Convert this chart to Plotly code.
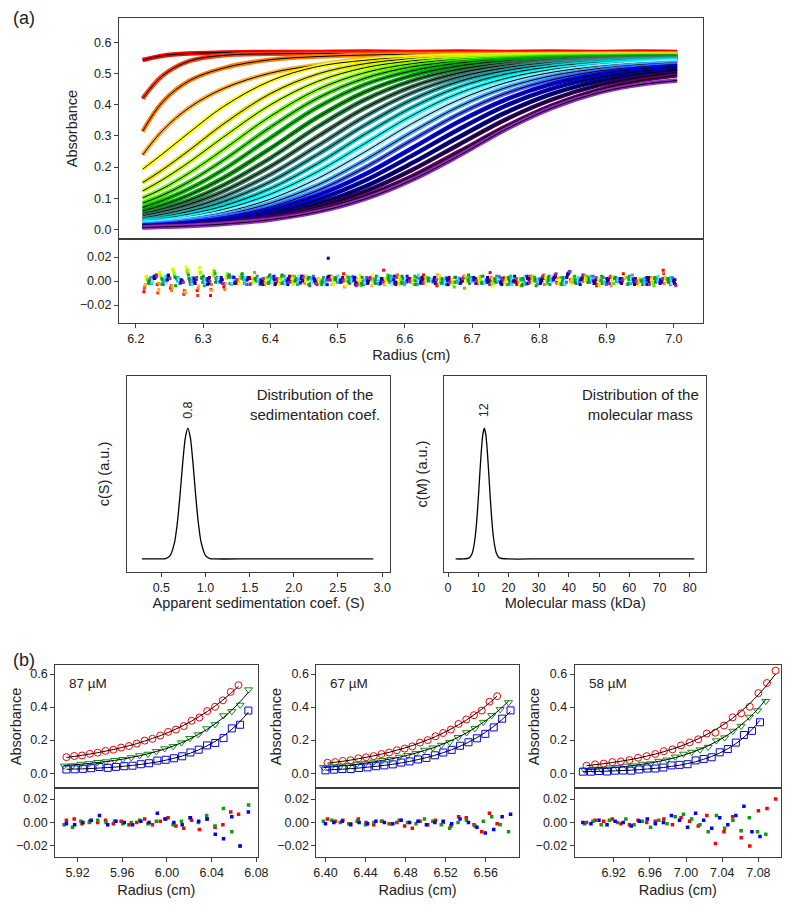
import numpy as np
import plotly.graph_objects as go

# ---------------- (a) sedimentation velocity scans ----------------
RADIUS = [6.21, 6.24, 6.28, 6.33, 6.40, 6.47, 6.54, 6.61, 6.68, 6.75, 6.82, 6.89, 6.95, 7.005]
SCAN_01 = [0.544, 0.558, 0.565, 0.568, 0.570, 0.570, 0.571, 0.570, 0.571, 0.570, 0.571, 0.570, 0.571, 0.570]
SCAN_02 = [0.420, 0.494, 0.541, 0.559, 0.564, 0.565, 0.565, 0.565, 0.565, 0.565, 0.565, 0.566, 0.566, 0.566]
SCAN_03 = [0.315, 0.410, 0.478, 0.518, 0.545, 0.555, 0.560, 0.562, 0.563, 0.563, 0.564, 0.564, 0.564, 0.564]
SCAN_04 = [0.239, 0.318, 0.392, 0.452, 0.502, 0.528, 0.547, 0.555, 0.559, 0.561, 0.562, 0.563, 0.563, 0.563]
SCAN_05 = [0.193, 0.243, 0.312, 0.394, 0.477, 0.523, 0.543, 0.553, 0.558, 0.560, 0.561, 0.561, 0.561, 0.561]
SCAN_06 = [0.150, 0.192, 0.255, 0.338, 0.436, 0.499, 0.532, 0.548, 0.555, 0.558, 0.559, 0.560, 0.560, 0.560]
SCAN_07 = [0.123, 0.160, 0.217, 0.296, 0.400, 0.475, 0.519, 0.541, 0.551, 0.556, 0.558, 0.559, 0.559, 0.559]
SCAN_08 = [0.101, 0.131, 0.182, 0.256, 0.363, 0.449, 0.503, 0.532, 0.546, 0.553, 0.556, 0.558, 0.558, 0.558]
SCAN_09 = [0.084, 0.110, 0.154, 0.222, 0.328, 0.421, 0.485, 0.522, 0.540, 0.550, 0.554, 0.556, 0.557, 0.557]
SCAN_10 = [0.070, 0.093, 0.131, 0.192, 0.294, 0.392, 0.465, 0.509, 0.534, 0.546, 0.552, 0.554, 0.556, 0.556]
SCAN_11 = [0.059, 0.078, 0.111, 0.165, 0.260, 0.360, 0.441, 0.494, 0.525, 0.541, 0.548, 0.552, 0.554, 0.555]
SCAN_12 = [0.050, 0.066, 0.094, 0.142, 0.229, 0.329, 0.416, 0.477, 0.514, 0.534, 0.545, 0.550, 0.552, 0.553]
SCAN_13 = [0.043, 0.057, 0.081, 0.122, 0.202, 0.298, 0.389, 0.458, 0.502, 0.527, 0.540, 0.547, 0.550, 0.552]
SCAN_14 = [0.036, 0.048, 0.068, 0.104, 0.176, 0.268, 0.362, 0.438, 0.489, 0.519, 0.536, 0.544, 0.548, 0.550]
SCAN_15 = [0.030, 0.040, 0.058, 0.089, 0.153, 0.240, 0.334, 0.416, 0.475, 0.510, 0.530, 0.541, 0.546, 0.548]
SCAN_16 = [0.026, 0.034, 0.049, 0.075, 0.131, 0.211, 0.305, 0.391, 0.457, 0.499, 0.523, 0.536, 0.542, 0.545]
SCAN_17 = [0.022, 0.028, 0.041, 0.064, 0.113, 0.185, 0.275, 0.365, 0.437, 0.485, 0.514, 0.530, 0.538, 0.542]
SCAN_18 = [0.018, 0.024, 0.035, 0.054, 0.097, 0.163, 0.248, 0.339, 0.416, 0.471, 0.505, 0.524, 0.534, 0.539]
SCAN_19 = [0.016, 0.021, 0.030, 0.046, 0.084, 0.142, 0.222, 0.312, 0.394, 0.455, 0.494, 0.517, 0.529, 0.535]
SCAN_20 = [0.014, 0.018, 0.026, 0.040, 0.072, 0.124, 0.198, 0.286, 0.370, 0.437, 0.481, 0.509, 0.522, 0.530]
SCAN_21 = [0.012, 0.015, 0.022, 0.034, 0.063, 0.109, 0.176, 0.260, 0.346, 0.417, 0.468, 0.499, 0.515, 0.524]
SCAN_22 = [0.010, 0.013, 0.019, 0.030, 0.054, 0.095, 0.156, 0.236, 0.321, 0.397, 0.453, 0.489, 0.507, 0.517]
SCAN_23 = [0.009, 0.012, 0.017, 0.026, 0.047, 0.082, 0.137, 0.212, 0.296, 0.375, 0.436, 0.477, 0.499, 0.511]
SCAN_24 = [0.008, 0.010, 0.014, 0.022, 0.041, 0.072, 0.121, 0.190, 0.272, 0.353, 0.418, 0.464, 0.489, 0.503]
SCAN_25 = [0.007, 0.009, 0.013, 0.019, 0.035, 0.063, 0.107, 0.170, 0.249, 0.330, 0.399, 0.449, 0.478, 0.495]
SCAN_26 = [0.006, 0.008, 0.011, 0.017, 0.031, 0.056, 0.097, 0.158, 0.236, 0.321, 0.391, 0.440, 0.465, 0.478]
SCANS = [SCAN_01, SCAN_02, SCAN_03, SCAN_04, SCAN_05, SCAN_06, SCAN_07, SCAN_08, SCAN_09,
         SCAN_10, SCAN_11, SCAN_12, SCAN_13, SCAN_14, SCAN_15, SCAN_16, SCAN_17, SCAN_18,
         SCAN_19, SCAN_20, SCAN_21, SCAN_22, SCAN_23, SCAN_24, SCAN_25, SCAN_26]
SCAN_COLORS = ["#ff0000", "#f04010", "#ff8000", "#ffb030", "#ffff00", "#e8e800", "#c8ff00",
               "#80ff00", "#40e000", "#00c000", "#00a000", "#208040", "#3a7050", "#408080",
               "#20a0a0", "#00d0d0", "#00ffff", "#90e8ff", "#40a8ff", "#4060ff", "#0000ff",
               "#0000c0", "#000090", "#300060", "#600060", "#9030c0"]

# residuals of the fit (units of 0.001 absorbance), one row per scan (same order as SCANS)
RES_START, RES_STEP, RES_SHIFT = 6.212, 0.0198, 0.00076
RES_A = [
    [-9, -3, -6, -11, -8, -12, -5, -2, 3, -1, 2, 0, 4, -3, 1, 6, -2, 3, 9, -1, 2, 5, -4, 0, 3, -2, 7, 1, -3, 4, 2, -1, 8, 0, -4, 3, 6, -2, 1, 9],
    [-6, -10, -4, -8, -12, -7, -3, 1, -2, 2, -1, 3, 0, -2, 4, 1, -3, 2, 0, 5, -1, 2, -3, 1, 4, -2, 0, 3, -1, 2, 5, -2, 1, 0, -3, 4, 2, -1, 3, 6],
    [-4, -2, -8, -10, -6, -3, -7, -1, 2, -3, 1, 4, -2, 0, 3, -5, 2, 1, -3, 4, 0, -2, 5, 1, -6, 2, 3, -1, 0, 4, -3, 2, -1, 5, 1, -4, 2, 0, 3, -2],
    [-3, -7, -5, -9, -4, -8, -2, 0, 3, -2, 1, -1, 4, 2, -3, 0, 2, -4, 1, 3, -1, 0, 2, -2, 4, 1, -3, 0, 2, -1, 3, -2, 0, 4, 1, -3, 2, -1, 0, 3],
    [3, 6, 9, 12, 8, 5, 3, -2, 4, 1, -3, 2, 0, -1, 3, -4, 2, 5, -2, 0, 1, -3, 4, 2, -1, 3, -5, 0, 2, -2, 4, 1, -3, 0, 2, -1, 3, -4, 1, 2],
    [4, 7, 10, 8, 11, 6, 2, 4, -1, 2, 0, -3, 3, 1, -2, 4, 0, -1, 2, -3, 1, 3, -2, 0, 4, -1, 2, -3, 1, 0, 3, -2, 1, 2, -4, 0, 3, 1, -2, 2],
    [2, 5, 8, 10, 6, 9, 4, 2, -1, 3, 0, -2, 4, 1, -3, 2, 5, -1, 0, 3, -2, 1, 4, -3, 2, 0, -1, 3, -4, 2, 1, -2, 3, 0, -1, 4, -3, 2, 1, 0],
    [1, 4, 6, 9, 7, 4, 6, 3, 1, -2, 2, 0, 3, -1, 1, 4, -2, 0, 3, 1, -3, 2, 0, -1, 3, 2, -2, 1, 0, 4, -1, -3, 2, 1, 0, -2, 3, 1, -1, 2],
    [1, -3, 4, 6, 3, 8, 5, 2, 7, 3, -2, 4, 1, -1, 3, 0, -4, 2, 5, -2, 1, 3, -1, -5, 2, 4, 0, -3, 2, 1, -2, 3, -1, 4, 0, -2, 3, 1, -4, 2],
    [-1, 2, 3, 5, 2, 6, 3, 5, 2, -1, 4, 0, 2, -3, 1, 3, -2, 0, 2, -1, 4, 1, -2, 3, 0, -1, 2, -3, 1, 3, 0, -2, 4, -1, 1, 2, -3, 0, 2, 1],
    [-2, 1, -4, 2, 3, -1, 4, 6, 2, -2, 5, 1, -3, 0, 2, -1, 3, -2, 1, 4, -3, 0, 2, -1, 5, -2, 1, 3, -4, 0, 2, -3, 1, -1, 4, 2, -2, 0, 3, -1],
    [0, -2, 3, 1, -1, 2, 5, 3, 1, 4, -2, 0, 3, -1, 2, 0, -3, 1, 4, -2, 0, 2, -1, 3, 1, -2, 0, 2, -3, 1, 4, 0, -1, 2, -2, 3, 1, 0, -1, 2],
    [0, -3, 2, -1, 4, 1, -2, 3, 0, 5, -1, 2, -4, 1, 3, -2, 0, 4, -1, 2, -3, 1, 0, 3, -2, 4, -1, 0, 2, -4, 1, 3, -2, 0, -1, 2, 4, -3, 1, 0],
    [2, -1, 1, -3, 0, 3, -2, 1, 4, 0, -1, 2, -2, 3, 0, 1, -3, 2, 0, -1, 3, 1, -2, 0, 2, -1, 4, -2, 1, 0, -3, 2, 1, -1, 3, 0, -2, 1, 2, -1],
    [3, -1, 0, 2, -4, 1, 3, -2, 1, 0, 4, -3, 2, 1, -1, 3, 0, -2, 4, 1, -3, 2, 0, -1, 3, -2, 1, 4, 0, -3, 2, -1, 1, 3, -2, 0, 4, -1, 2, -3],
    [-2, 1, 3, 0, -1, 2, -3, 1, 0, 3, -2, 1, 2, -1, 4, 0, -2, 1, 3, -3, 0, 2, 1, -1, 2, -2, 0, 3, -1, 1, 2, -3, 0, 4, -1, 1, -2, 2, 0, 3],
    [-1, 4, 2, -3, 1, 0, -2, 3, 1, -1, 2, 4, 0, -3, 1, 2, -1, 3, -2, 0, 5, 1, -2, 3, 0, -1, 2, -3, 4, 1, 0, -2, 3, 1, -1, 2, 0, -3, 4, 1],
    [1, -2, 0, 3, -1, 2, 1, -3, 2, 0, -1, 4, -2, 1, 3, 0, -1, 2, -3, 1, 0, 2, -1, 3, 1, -2, 2, 0, -3, 1, 4, -1, 0, 2, -2, 1, 3, -1, 0, -2],
    [2, 0, -2, 3, 1, -1, 4, 0, -3, 2, 1, -2, 3, 0, -1, 4, 2, -3, 1, 0, 2, -1, 3, -2, 0, 1, 4, -1, -3, 2, 0, 3, -2, 1, -1, 2, 5, -2, 0, 3],
    [3, 1, -2, 0, 2, -1, 3, -3, 1, 2, 0, -2, 4, 1, -1, 0, 3, -2, 1, -1, 2, 0, -3, 2, 1, -1, 3, 0, -2, 1, 2, -1, 0, 4, -3, 1, 2, 0, -1, 2],
    [4, 1, -1, 2, -3, 0, 3, 1, -2, 4, 0, -1, 2, -3, 1, 3, 0, -2, 1, 4, -1, 0, 2, -2, 3, 1, -1, 0, 4, -2, 1, 3, -3, 0, 2, -1, 1, 3, -2, 0],
    [2, 4, 1, -1, 0, 3, -2, 2, -1, 1, -3, 2, 0, 3, -1, 1, -2, 0, 4, 1, -2, 2, 0, -1, 1, 3, -2, 0, 2, -1, 3, 5, 1, -2, 0, 2, -1, -3, 1, 0],
    [3, 5, 0, -2, 2, 1, -1, 3, 0, -3, 2, 4, 1, 19, 0, 3, -1, 2, -2, 1, 0, 3, -3, 1, 2, -1, 0, 4, -2, 1, 3, 6, 2, -1, 0, 2, -3, 1, 0, -2],
    [4, 3, 0, 2, -2, 1, -1, 3, 1, -2, 0, 2, -1, 4, 0, -3, 1, 2, -1, 0, 3, -2, 1, 0, 2, -1, -3, 1, 2, 0, 5, 6, 2, -1, 1, -2, 0, 3, -1, 1],
    [5, 2, -1, 1, 3, -2, 0, 2, -3, 1, 4, 0, -2, 1, 3, -1, 2, 0, -3, 2, 1, -1, 3, 0, -2, 1, 2, -1, 0, 3, 4, 7, 3, 1, -2, 0, 2, -1, 1, -3],
    [4, 2, -1, 3, 0, -2, 1, -3, 2, 0, -1, 3, -2, 1, 0, -4, 2, -1, 3, 0, -2, 1, -1, 2, 0, -3, 1, 2, -1, 4, 6, 8, 5, 3, -2, 1, 0, -3, 2, -4],
]

# ---------------- distributions ----------------
SED_COEF = [0.28, 0.40, 0.50, 0.55, 0.60, 0.65, 0.68, 0.71, 0.74, 0.77, 0.80, 0.83, 0.86,
            0.89, 0.92, 0.95, 1.00, 1.05, 1.10, 1.50, 2.00, 2.50, 2.90]
C_S = [0, 0, 0, 0.003, 0.026, 0.128, 0.269, 0.477, 0.720, 0.921, 1.0, 0.921, 0.720,
       0.477, 0.269, 0.128, 0.026, 0.003, 0, 0, 0, 0, 0]
MOL_MASS = [2.5, 5, 7, 8, 8.5, 9, 9.5, 10, 10.5, 11, 11.5, 12, 12.5, 13, 13.5, 14, 14.5,
            15, 15.5, 16, 17, 20, 30, 40, 50, 60, 70, 81.5]
C_M = [0, 0, 0.008, 0.044, 0.092, 0.172, 0.295, 0.458, 0.645, 0.823, 0.952, 1.0, 0.952,
       0.823, 0.645, 0.458, 0.295, 0.172, 0.092, 0.044, 0.008, 0, 0, 0, 0, 0, 0, 0]

# ---------------- (b) equilibrium profiles: fits and residuals (x0.001) ----------------
P87_R_RANGE, P87_G_RANGE, P87_B_RANGE = (5.910, 6.064), (5.908, 6.073), (5.910, 6.0728)
P87_RED = [0.095, 0.101, 0.108, 0.116, 0.124, 0.133, 0.143, 0.154, 0.166, 0.179, 0.194, 0.210, 0.227, 0.246, 0.267, 0.290, 0.315, 0.343, 0.373, 0.406, 0.443, 0.483, 0.526]
P87_GRN = [0.046, 0.050, 0.054, 0.059, 0.064, 0.070, 0.077, 0.085, 0.095, 0.105, 0.117, 0.131, 0.146, 0.164, 0.184, 0.207, 0.234, 0.264, 0.298, 0.337, 0.382, 0.433, 0.491]
P87_BLU = [0.023, 0.025, 0.026, 0.028, 0.031, 0.034, 0.037, 0.042, 0.047, 0.053, 0.060, 0.068, 0.078, 0.090, 0.104, 0.121, 0.141, 0.165, 0.193, 0.226, 0.266, 0.313, 0.370]
P87_RED_RES = [2, 3, -1, 1, 0, 2, -1, 1, -2, 0, 3, -2, 1, 4, -3, -5, 2, -6, 3, -4, -2, 9, 7]
P87_GRN_RES = [-2, -4, 1, 0, 2, 0, 1, -1, 0, 2, -1, 1, 3, -2, 1, 4, 0, 6, -3, 12, -8, -20, 15]
P87_BLU_RES = [-1, -2, 0, 2, 6, -2, 1, 0, -2, 1, 0, 8, 3, 0, -2, 4, 1, 3, -10, -14, 5, -20, 9]

P67_R_RANGE, P67_G_RANGE, P67_B_RANGE = (6.402, 6.5714), (6.398, 6.5828), (6.400, 6.5848)
P67_RED = [0.060, 0.066, 0.072, 0.079, 0.087, 0.096, 0.105, 0.115, 0.126, 0.139, 0.152, 0.167, 0.184, 0.202, 0.221, 0.243, 0.267, 0.293, 0.321, 0.353, 0.387, 0.425, 0.467]
P67_GRN = [0.034, 0.038, 0.043, 0.048, 0.054, 0.061, 0.068, 0.077, 0.086, 0.096, 0.108, 0.122, 0.137, 0.153, 0.172, 0.193, 0.217, 0.244, 0.274, 0.308, 0.345, 0.388, 0.436]
P67_BLU = [0.018, 0.021, 0.024, 0.027, 0.031, 0.036, 0.041, 0.047, 0.054, 0.062, 0.071, 0.082, 0.094, 0.108, 0.124, 0.142, 0.163, 0.187, 0.215, 0.247, 0.283, 0.325, 0.373]
P67_RED_RES = [3, 1, 2, -1, 3, 0, -2, 1, -1, 0, -3, -5, 1, -2, 2, 0, -3, 5, 4, -2, -8, 8, -1]
P67_GRN_RES = [1, 2, 0, -1, 1, -2, 0, 1, -1, 2, 0, -1, 3, 1, -2, -5, 0, 2, -3, 1, 5, -2, -8]
P67_BLU_RES = [-1, 0, 1, -2, 0, -1, 1, 0, -1, 2, 0, 1, -2, 0, 1, -1, 3, 0, -4, -9, -6, 5, 7]

P58_R_RANGE, P58_G_RANGE, P58_B_RANGE = (6.890, 7.099), (6.888, 7.0882), (6.886, 7.0818)
P58_RED = [0.045, 0.051, 0.057, 0.064, 0.072, 0.081, 0.091, 0.103, 0.115, 0.130, 0.146, 0.164, 0.185, 0.208, 0.234, 0.263, 0.296, 0.333, 0.375, 0.422, 0.475, 0.534, 0.601]
P58_GRN = [0.020, 0.023, 0.027, 0.031, 0.035, 0.041, 0.047, 0.054, 0.062, 0.071, 0.082, 0.094, 0.109, 0.125, 0.144, 0.166, 0.191, 0.220, 0.253, 0.292, 0.336, 0.387, 0.446]
P58_BLU = [0.009, 0.010, 0.011, 0.012, 0.014, 0.016, 0.018, 0.021, 0.025, 0.029, 0.034, 0.041, 0.048, 0.058, 0.069, 0.084, 0.101, 0.122, 0.148, 0.179, 0.217, 0.264, 0.320]
P58_RED_RES = [0, 2, 1, 3, -1, -2, 2, 0, 1, 3, -2, 4, 1, -3, 6, -18, -8, 5, -13, -20, 10, 12, 20]
P58_GRN_RES = [-1, 1, -2, 2, 0, 3, -2, 1, -4, 2, -1, 5, 7, 3, -2, -8, 6, -5, 2, -7, 4, -8, -10]
P58_BLU_RES = [0, -1, 2, -2, 1, 0, -3, 1, 3, -1, 0, 6, 2, -4, 8, 2, -5, 4, -2, 6, 14, -8, -12]

PANELS_B = [
    ("87 µM", (P87_R_RANGE, P87_RED, P87_RED_RES), (P87_G_RANGE, P87_GRN, P87_GRN_RES), (P87_B_RANGE, P87_BLU, P87_BLU_RES)),
    ("67 µM", (P67_R_RANGE, P67_RED, P67_RED_RES), (P67_G_RANGE, P67_GRN, P67_GRN_RES), (P67_B_RANGE, P67_BLU, P67_BLU_RES)),
    ("58 µM", (P58_R_RANGE, P58_RED, P58_RED_RES), (P58_G_RANGE, P58_GRN, P58_GRN_RES), (P58_B_RANGE, P58_BLU, P58_BLU_RES)),
]
B_XRANGES = [(5.900, 6.081), (6.391, 6.593), (6.877, 7.105)]
B_XTICKS = [[5.92, 5.96, 6.00, 6.04, 6.08], [6.40, 6.44, 6.48, 6.52, 6.56], [6.92, 6.96, 7.00, 7.04, 7.08]]

# ---------------- figure ----------------
# the page body has an 8 px margin; the figure fills the window inside it exactly
OFF = 8
W, H = 800 - 2 * OFF, 907 - 2 * OFF
FONT = "Liberation Sans, Arial, sans-serif"
AXC = "#3c3c3c"
TXT = "#222222"


def pxp(x):
    return min(1.0, max(0.0, (x - OFF) / W))


def pyp(y):
    return min(1.0, max(0.0, 1 - (y - OFF) / H))


def px(x0, x1):
    return [pxp(x0), pxp(x1)]


def py(y0, y1):
    return [pyp(y1), pyp(y0)]


def axis(domain, rng, anchor, **kw):
    d = dict(domain=domain, range=rng, anchor=anchor, showline=True, mirror=True,
             linecolor=AXC, linewidth=1, showgrid=False, zeroline=False,
             ticks="outside", ticklen=4, tickwidth=1, tickcolor=AXC,
             tickfont=dict(size=12.5, color=TXT, family=FONT))
    d.update(kw)
    return d


fig = go.Figure()
lay = {}
tfont = dict(size=14.5, family=FONT, color=TXT)

# (a) top + residual
lay["xaxis"] = axis(px(118, 713), [6.175, 7.044], "y", showticklabels=False, ticks="", linewidth=1.3)
lay["yaxis"] = axis(py(18, 239), [-0.031, 0.679], "x", linewidth=1.3,
                    tickvals=[0, 0.1, 0.2, 0.3, 0.4, 0.5, 0.6], tickformat=".1f",
                    title=dict(text="Absorbance", font=tfont, standoff=12))
lay["xaxis2"] = axis(px(118, 713), [6.175, 7.044], "y2", linewidth=1.3,
                     tickvals=[6.2, 6.3, 6.4, 6.5, 6.6, 6.7, 6.8, 6.9, 7.0], tickformat=".1f",
                     title=dict(text="Radius (cm)", font=tfont, standoff=4))
lay["yaxis2"] = axis(py(239, 323), [-0.035, 0.035], "x2", linewidth=1.3,
                     tickvals=[-0.02, 0, 0.02], tickformat=".2f")

for vals, col in zip(SCANS, SCAN_COLORS):
    fig.add_trace(go.Scatter(x=RADIUS, y=vals, mode="lines", line=dict(color=col, width=4.5, shape="spline"),
                             xaxis="x", yaxis="y", showlegend=False, hoverinfo="skip"))
    fig.add_trace(go.Scatter(x=RADIUS, y=vals, mode="lines", line=dict(color="black", width=1, shape="spline"),
                             xaxis="x", yaxis="y", showlegend=False, hoverinfo="skip"))

for g, (res, col) in enumerate(zip(RES_A, SCAN_COLORS)):
    xs = RES_START + g * RES_SHIFT + RES_STEP * np.arange(len(res))
    fig.add_trace(go.Scatter(x=xs, y=np.array(res) / 1000.0, mode="markers",
                             marker=dict(color=col, size=3, symbol="square"),
                             xaxis="x2", yaxis="y2", showlegend=False, hoverinfo="skip"))

# distributions
lay["xaxis3"] = axis(px(126, 394), [0.11, 3.09], "y3", tickvals=[0.5, 1.0, 1.5, 2.0, 2.5, 3.0], tickformat=".1f",
                     title=dict(text="Apparent sedimentation coef. (S)", font=tfont, standoff=3))
lay["yaxis3"] = axis(py(376, 572), [-0.1, 1.4], "x3", showticklabels=False, ticks="",
                     title=dict(text="c(S) (a.u.)", font=tfont, standoff=12))
lay["xaxis4"] = axis(px(449, 716), [-1.3, 85.5], "y4", tickvals=[0, 10, 20, 30, 40, 50, 60, 70, 80],
                     title=dict(text="Molecular mass (kDa)", font=tfont, standoff=3))
lay["yaxis4"] = axis(py(376, 572), [-0.1, 1.4], "x4", showticklabels=False, ticks="",
                     title=dict(text="c(M) (a.u.)", font=tfont, standoff=12))
fig.add_trace(go.Scatter(x=SED_COEF, y=C_S, mode="lines", line=dict(color="black", width=1.3, shape="spline", smoothing=0.6),
                         xaxis="x3", yaxis="y3", showlegend=False))
fig.add_trace(go.Scatter(x=MOL_MASS, y=C_M, mode="lines", line=dict(color="black", width=1.3, shape="spline", smoothing=0.6),
                         xaxis="x4", yaxis="y4", showlegend=False))

# (b) panels
B_XPIX = [(53, 259), (319, 525), (582, 792)]
SERIES_STYLE = [("#ff0000", "circle-open"), ("#118a11", "triangle-down-open"), ("#0000ff", "square-open")]
RES_COLORS = ["#ff0000", "#119a11", "#0000ff"]
annotations = []
for k, (label, *series) in enumerate(PANELS_B):
    ax_top, ax_res = 5 + 2 * k, 6 + 2 * k
    xd = px(*B_XPIX[k])
    lay[f"xaxis{ax_top}"] = axis(xd, list(B_XRANGES[k]), f"y{ax_top}", showticklabels=False, ticks="")
    lay[f"yaxis{ax_top}"] = axis(py(665, 788), [-0.09, 0.655], f"x{ax_top}", tickvals=[0, 0.2, 0.4, 0.6], tickformat=".1f",
                                 title=dict(text="Absorbance", font=tfont, standoff=6))
    lay[f"xaxis{ax_res}"] = axis(xd, list(B_XRANGES[k]), f"y{ax_res}", tickvals=B_XTICKS[k], tickformat=".2f",
                                 title=dict(text="Radius (cm)", font=tfont, standoff=5))
    lay[f"yaxis{ax_res}"] = axis(py(788, 857), [-0.0295, 0.0295], f"x{ax_res}", tickvals=[-0.02, 0, 0.02], tickformat=".2f")
    for (rng, fit, res), (col, sym), rcol in zip(series, SERIES_STYLE, RES_COLORS):
        xs = np.linspace(rng[0], rng[1], len(fit))
        data = np.array(fit) + np.array(res) / 1000.0
        fig.add_trace(go.Scatter(x=xs, y=data, mode="markers",
                                 marker=dict(symbol=sym, size=7, color=col, line=dict(width=1, color=col)),
                                 xaxis=f"x{ax_top}", yaxis=f"y{ax_top}", showlegend=False))
        fig.add_trace(go.Scatter(x=xs, y=fit, mode="lines", line=dict(color="black", width=1, shape="spline"),
                                 xaxis=f"x{ax_top}", yaxis=f"y{ax_top}", showlegend=False))
        fig.add_trace(go.Scatter(x=xs, y=np.array(res) / 1000.0, mode="markers",
                                 marker=dict(symbol="square", size=3.5, color=rcol),
                                 xaxis=f"x{ax_res}", yaxis=f"y{ax_res}", showlegend=False))
    annotations.append(dict(text=label, xref="paper", yref="paper", x=pxp(B_XPIX[k][0] + 12), y=pyp(683),
                            xanchor="left", yanchor="middle", showarrow=False, font=dict(size=13.5, family=FONT, color=TXT)))

annotations += [
    dict(text="(a)", xref="paper", yref="paper", x=pxp(8), y=pyp(18), xanchor="left", yanchor="middle",
         showarrow=False, font=dict(size=18, family=FONT, color=TXT)),
    dict(text="(b)", xref="paper", yref="paper", x=pxp(8), y=pyp(660), xanchor="left", yanchor="middle",
         showarrow=False, font=dict(size=18, family=FONT, color=TXT)),
    dict(text="Distribution of the<br>sedimentation coef.", xref="paper", yref="paper", x=pxp(318), y=pyp(404),
         xanchor="center", yanchor="middle", showarrow=False, font=dict(size=15, family=FONT, color=TXT)),
    dict(text="Distribution of the<br>molecular mass", xref="paper", yref="paper", x=pxp(649), y=pyp(404),
         xanchor="center", yanchor="middle", showarrow=False, font=dict(size=15, family=FONT, color=TXT)),
    dict(text="0.8", xref="x3", yref="y3", x=0.8, y=1.14, textangle=-90, xanchor="center", yanchor="middle",
         showarrow=False, font=dict(size=12.5, family=FONT, color=TXT)),
    dict(text="12", xref="x4", yref="y4", x=12, y=1.14, textangle=-90, xanchor="center", yanchor="middle",
         showarrow=False, font=dict(size=12.5, family=FONT, color=TXT)),
]

fig.update_layout(width=W, height=H, margin=dict(l=0, r=0, t=0, b=0), paper_bgcolor="white",
                  plot_bgcolor="white", font=dict(family=FONT, size=12, color=TXT),
                  annotations=annotations, **lay)
fig.write_html("out.html")
